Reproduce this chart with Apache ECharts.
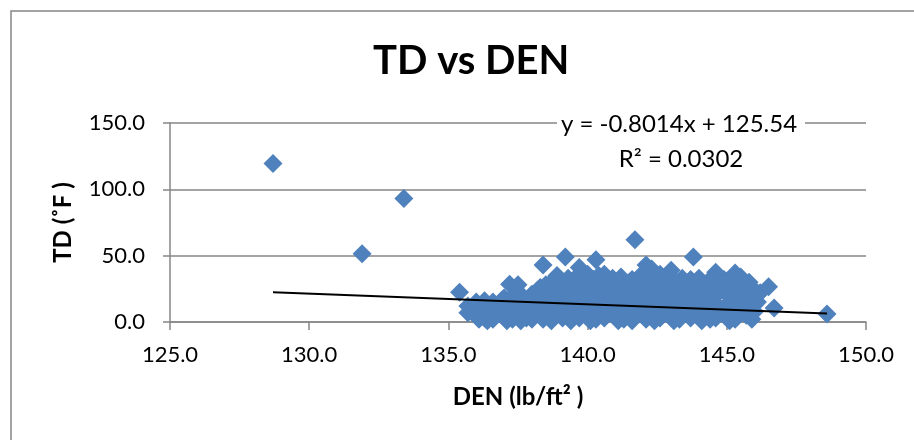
<!DOCTYPE html>
<html>
<head>
<meta charset="utf-8">
<script src="https://cdn.jsdelivr.net/npm/echarts@6/dist/echarts.min.js"></script>
<style>html,body{margin:0;padding:0;background:#fff}#c{width:914px;height:440px}</style>
</head>
<body>
<div id="c"></div>
<script>
var chartTitle = 'TD vs DEN';
var xName = 'DEN (lb/ft\u00B2 )';
var yName = 'TD (\u02DAF )';
var trendText = ['y = -0.8014x + 125.54', 'R\u00B2 = 0.0302'];
var xTicks = [125, 150, 5];
var yTicks = [0, 150, 50];
var trendLine = [[128.7, 22.4], [148.6, 6.45]];
var outliers = [[128.7,119.5],[131.9,51.5],[133.4,93],[148.6,6]];
var denTd = [
[135.4,22.5],
[135.7,12],[135.7,7],
[136.0,15],[136.0,10],[136.0,5],[136.1,2],
[136.3,16],[136.3,12],[136.4,7],[136.3,3],[136.4,1],
[136.6,15],[136.7,11],[136.7,6],[136.6,2],
[137.0,18],[137.1,13],[137.0,8],[137.0,4],[137.1,1],
[137.2,28.5],[137.5,28],[137.3,19],[137.4,15],[137.3,10],[137.4,5],[137.3,2],
[137.7,17],[137.8,12],[137.7,7],[137.8,3],[137.6,1],
[138.0,21],[138.1,16],[138.0,11],[138.1,6],[138.0,2],
[138.4,43],[138.3,26],[138.4,21],[138.3,16],[138.4,11],[138.3,6],[138.4,2],
[138.7,30],[138.6,25],[138.7,20],[138.7,14],[138.6,9],[138.7,4],[138.7,1],
[138.9,35],[139.0,29],[139.0,23],[139.1,18],[139.0,12],[139.0,7],[139.1,3],
[139.2,49],[139.3,33],[139.4,27],[139.3,22],[139.3,16],[139.4,11],[139.3,5],[139.4,1],
[139.7,41],[139.6,34],[139.7,29],[139.7,24],[139.6,18],[139.7,13],[139.6,8],[139.7,3],
[140.0,36],[140.0,30],[140.1,25],[140.0,19],[140.1,14],[140.0,9],[140.0,4],[140.1,1],
[140.3,47],[140.4,35],[140.3,29],[140.3,23],[140.4,17],[140.3,12],[140.4,6],[140.3,2],
[140.6,36],[140.7,30],[140.7,24],[140.6,19],[140.7,13],[140.7,8],[140.6,3],
[140.9,33],[141.0,27],[141.0,22],[141.1,16],[141.0,10],[141.0,5],[141.1,1],
[141.2,34],[141.3,28],[141.3,23],[141.4,17],[141.3,11],[141.4,6],[141.3,2],
[141.7,62],[141.6,32],[141.7,26],[141.7,20],[141.6,15],[141.7,9],[141.7,4],[141.6,1],
[141.9,35],[142.0,30],[142.0,24],[142.1,18],[142.0,13],[142.0,7],[142.1,2],
[142.1,43],[142.3,40],[142.3,33],[142.4,27],[142.3,21],[142.4,15],[142.3,10],[142.3,4],[142.4,1],
[142.6,36],[142.7,30],[142.7,24],[142.6,19],[142.7,13],[142.7,7],[142.6,3],
[143.0,39],[143.1,32],[143.0,26],[143.0,21],[143.1,15],[143.0,9],[143.0,4],[143.1,1],
[143.4,33],[143.3,27],[143.4,22],[143.4,16],[143.3,11],[143.4,5],[143.3,2],
[143.8,49],[143.7,32],[143.8,26],[143.7,20],[143.7,14],[143.8,8],[143.7,3],
[144.0,33],[144.1,27],[144.0,21],[144.0,16],[144.1,10],[144.0,5],[144.1,1],
[144.3,30],[144.4,24],[144.3,18],[144.4,13],[144.3,7],[144.4,2],
[144.6,37.5],[144.6,31],[144.7,25],[144.6,20],[144.6,14],[144.7,8],[144.6,3],
[144.9,32],[145.0,26],[145.0,21],[145.1,15],[145.0,10],[145.0,4],[145.1,1],
[145.3,37],[145.3,30],[145.4,24],[145.3,18],[145.3,12],[145.4,6],[145.3,2],
[145.5,34],[145.7,28],[145.6,22],[145.7,16],[145.6,10],[145.7,5],
[145.8,30],[146.0,24],[145.9,18],[146.0,13],[145.9,7],[145.9,2],
[146.2,22],[146.1,15],[146.0,8],
[146.5,26.5],[146.7,10.5],
[136.9,16],[137.6,21],[138.2,24],[138.5,28],[138.8,32],[139.5,31],[139.9,33],[140.2,32],
[140.5,33],[140.8,31],[141.1,30],[141.5,30],[141.8,31],[142.2,35],[142.5,33],[142.8,34],
[143.2,30],[143.5,29],[143.9,30],[144.2,28],[144.5,33],[144.8,29],[145.2,33],[145.6,31]
];

var FONT = 'Lato';
var GRAY = '#868686';
var chart = echarts.init(document.getElementById('c'), null, {renderer: 'canvas'});
chart.setOption({
  backgroundColor: '#fff',
  animation: false,
  title: {
    text: chartTitle,
    left: 368, top: 36,
    textStyle: {fontFamily: FONT, fontWeight: 'bold', fontSize: 40, color: '#000'}
  },
  grid: {left: 170, right: 48, top: 123, bottom: 118, outerBoundsMode: 'none'},
  xAxis: {
    type: 'value', min: xTicks[0], max: xTicks[1], interval: xTicks[2],
    name: xName, nameLocation: 'middle', nameGap: 63,
    nameTextStyle: {fontFamily: FONT, fontWeight: 'bold', fontSize: 24, color: '#000'},
    axisLine: {show: true, lineStyle: {color: GRAY, width: 1.5}},
    axisTick: {show: true, inside: false, length: 8, lineStyle: {color: GRAY, width: 1.5}},
    axisLabel: {margin: 22, fontFamily: FONT, fontSize: 22, color: '#000', formatter: function(v){return v.toFixed(1);}},
    splitLine: {show: false}
  },
  yAxis: {
    type: 'value', min: yTicks[0], max: yTicks[1], interval: yTicks[2],
    name: yName, nameLocation: 'middle', nameGap: 95, nameRotate: 90,
    nameTextStyle: {fontFamily: FONT, fontWeight: 'bold', fontSize: 24, color: '#000'},
    axisLine: {show: true, onZero: false, lineStyle: {color: GRAY, width: 1.5}},
    axisTick: {show: true, inside: false, length: 7, lineStyle: {color: GRAY, width: 1.5}},
    axisLabel: {margin: 25, fontFamily: FONT, fontSize: 22, color: '#000', formatter: function(v){return v.toFixed(1);}},
    splitLine: {show: true, lineStyle: {color: GRAY, width: 1.5}}
  },
  graphic: [
    {type: 'rect', shape: {x: 11, y: 11, width: 930, height: 460}, style: {fill: 'none', stroke: GRAY, lineWidth: 1.5}, z: 100},
    {type: 'rect', shape: {x: 557, y: 112, width: 248, height: 24}, style: {fill: '#fff'}, z: 50},
    {type: 'text', x: 679, y: 124, style: {text: trendText[0], fontFamily: FONT, fontSize: 24, fill: '#000', align: 'center', verticalAlign: 'middle'}, z: 51},
    {type: 'text', x: 681, y: 159, style: {text: trendText[1], fontFamily: FONT, fontSize: 24, fill: '#000', align: 'center', verticalAlign: 'middle'}, z: 51}
  ],
  series: [
    {type: 'scatter', data: denTd.concat(outliers), symbol: 'diamond', symbolSize: 19,
     itemStyle: {color: '#4F81BD', opacity: 1}, z: 2},
    {type: 'line', data: trendLine, symbol: 'none', lineStyle: {color: '#000', width: 2}, z: 3, silent: true}
  ]
});
</script>
</body>
</html>
